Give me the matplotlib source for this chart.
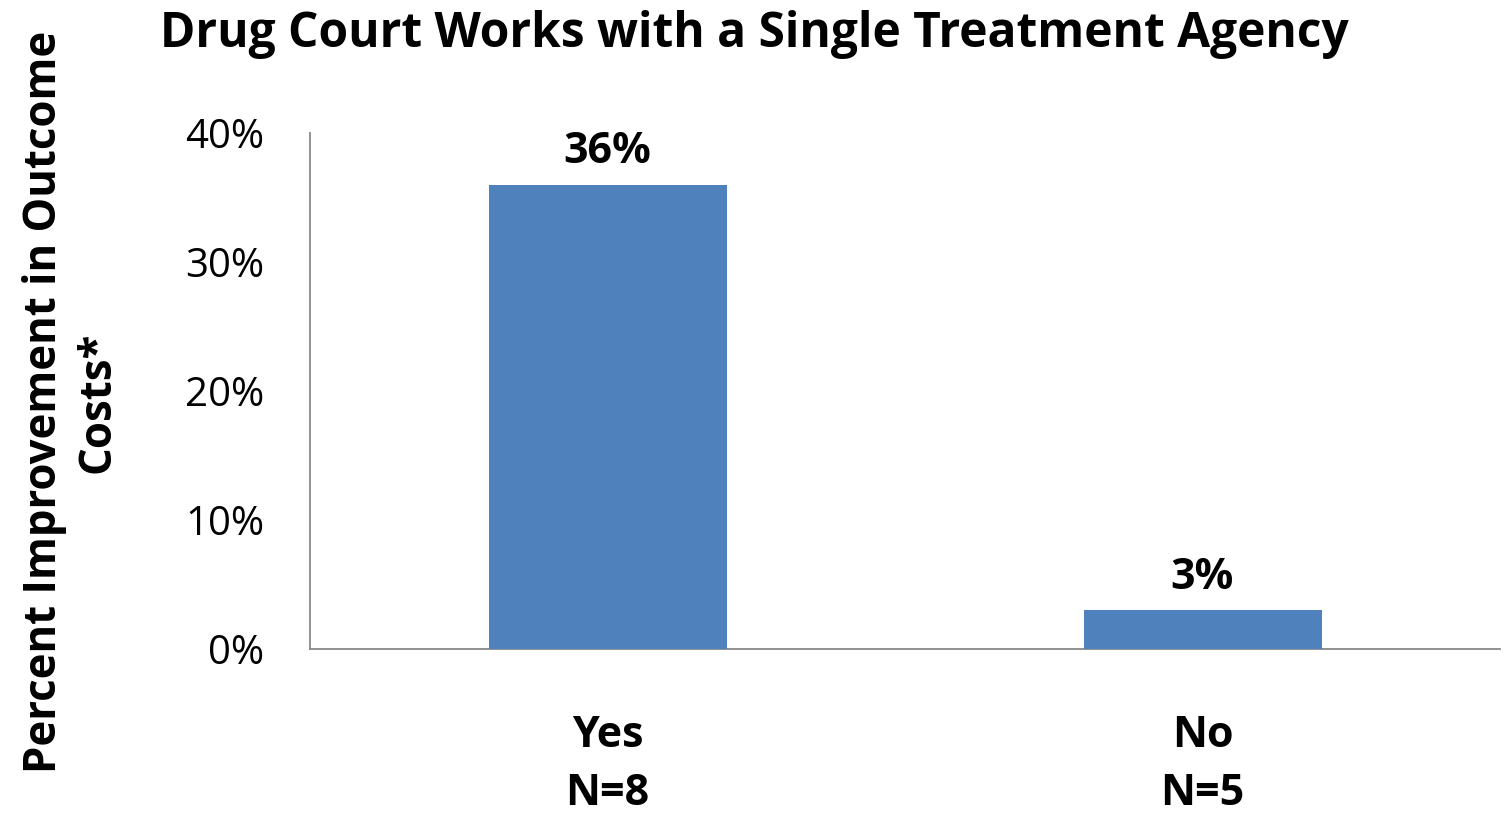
import matplotlib
matplotlib.use('Agg')
import matplotlib.pyplot as plt
from matplotlib.ticker import PercentFormatter

categories = ["Yes\nN=8", "No\nN=5"]
values = [36, 3]
yticks = [0, 10, 20, 30, 40]

plt.rcParams['font.family'] = ['Open Sans', 'DejaVu Sans']

fig = plt.figure(figsize=(15.08, 8.16), dpi=100)
ax = fig.add_axes([310/1508, 167/816, 1190/1508, 516/816])

x = range(len(values))
ax.bar(x, values, width=0.4, color="#4F81BD", zorder=3)
for xi, v in zip(x, values):
    ax.text(xi, v + 0.9, f"{v}%", ha="center", va="bottom",
            fontsize=31, fontweight="bold")

ax.set_xlim(-0.5, 1.5)
ax.set_ylim(0, 40)
ax.set_yticks(yticks)
ax.yaxis.set_major_formatter(PercentFormatter(decimals=0))
ax.set_xticks(list(x))
ax.set_xticklabels(categories, fontsize=31, fontweight="bold", linespacing=1.45)
ax.tick_params(axis="y", length=0, pad=33, labelsize=29)
ax.tick_params(axis="x", length=0, pad=47)
for s in ("top", "right"):
    ax.spines[s].set_visible(False)
for s in ("left", "bottom"):
    ax.spines[s].set_color("#888888")
    ax.spines[s].set_linewidth(1.3)

fig.text(0.5, 0.958, "Drug Court Works with a Single Treatment Agency",
         ha="center", va="center", fontsize=34.5, fontweight="bold")
fig.text(0.047, 0.507, "Percent Improvement in Outcome\nCosts*", rotation=90,
         ha="center", va="center", fontsize=31.5, fontweight="bold",
         multialignment="center", linespacing=1.25)

fig.savefig("out.png", dpi=100)
